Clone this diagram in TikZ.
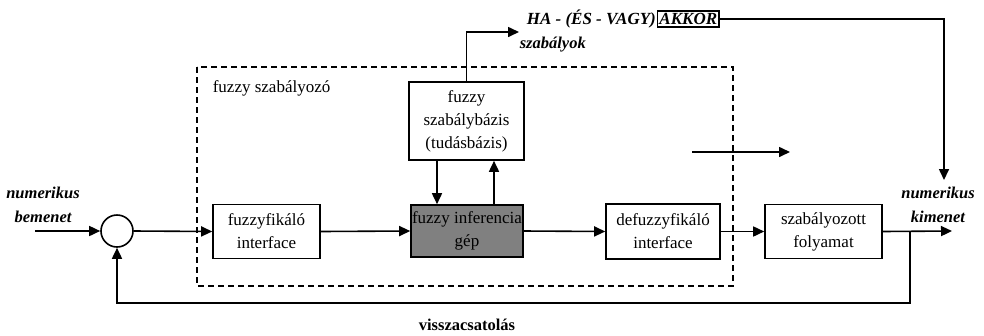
\documentclass[tikz,border=0pt]{standalone}
\usepackage{fontspec}
\setmainfont{Liberation Serif}
\usetikzlibrary{arrows.meta,calc}
\begin{document}
\begin{tikzpicture}[x=1pt,y=-1pt,
  line width=1.6pt,
  arr/.style={-{Triangle[length=11pt,width=10pt]}},
  blk/.style={draw, rectangle, align=center, inner sep=0pt,
    font=\fontsize{17}{23}\selectfont},
  lbl/.style={align=center, inner sep=0pt, font=\fontsize{16.5}{24}\selectfont\bfseries\itshape},
  dsh/.style={line width=2pt, dash pattern=on 6pt off 4pt}]
\useasboundingbox (0,0) rectangle (984,335);

% dashed controller frame
\draw[dsh] (197,67) rectangle (733,286);
\node[anchor=west, inner sep=0pt, font=\fontsize{17}{23}\selectfont] (ctl) at (212,88) {fuzzy szabályozó};

% blocks
\node[draw, circle, minimum size=32pt, inner sep=0pt] (sum) at (117,231) {};
\node[blk, minimum width=107pt, minimum height=54pt] (fz) at (266.5,231.5) {fuzzyfikáló\\interface};
\node[blk, minimum width=112pt, minimum height=52pt, fill=black!50] (inf) at (467,231) {fuzzy inferencia\\gép};
\node[blk, minimum width=115pt, minimum height=78pt] (rb) at (466.5,121) {fuzzy\\szabálybázis\\(tudásbázis)};
\node[blk, minimum width=114pt, minimum height=55pt] (dfz) at (663,231.5) {defuzzyfikáló\\interface};
\node[blk, minimum width=117pt, minimum height=54pt] (proc) at (823.5,231.5) {szabályozott\\folyamat};

% labels
\node[lbl] (inlbl) at (43,205) {numerikus\\bemenet};
\node[lbl] (outlbl) at (938,205) {numerikus\\kimenet};
\node[anchor=west, inner sep=0pt, font=\fontsize{17}{20}\selectfont\bfseries\itshape] (ha) at (526,19) {HA - (ÉS - VAGY)};
\node[draw, anchor=west, inner sep=2pt, line width=1.6pt, font=\fontsize{17}{20}\selectfont\bfseries\itshape] (akkor) at (ha.east) {AKKOR};
\node[anchor=west, inner sep=0pt, font=\fontsize{16.5}{20}\selectfont\bfseries\itshape] (szab) at (519,45) {szabályok};
\node[inner sep=0pt, font=\fontsize{16.5}{20}\selectfont\bfseries] (vissza) at (467,325) {visszacsatolás};

% coordinates
\coordinate (in) at (35,231);
\coordinate (out) at (952,231);
\coordinate (fb) at (910,231);
\coordinate (fbb) at (910,303);
\coordinate (d1) at (437,0);
\coordinate (u1) at (494,0);
\coordinate (rl) at (519,32);
\coordinate (kc) at (944,19);
\coordinate (kt) at (944,180);
\coordinate (fa) at (692,152);
\coordinate (fe) at (790,152);

% connectors
\draw[arr] (in) -- (sum.west);
\draw[arr] (sum.east) -- (fz.west);
\draw[arr] (fz.east) -- (inf.west);
\draw[arr] (inf.east) -- (dfz.west);
\draw[arr] (dfz.east) -- (proc.west);
\draw[arr] (proc.east) -- (out);
\draw[arr] (fb) -- (fbb) -| (sum.south);
\draw[arr] (rb.south -| d1) -- (inf.north -| d1);
\draw[arr] (inf.north -| u1) -- (rb.south -| u1);
\draw[arr] (rb.north) |- (rl);
\draw[arr] (akkor.east) -- (kc) -- (kt);
\draw[arr] (fa) -- (fe);
\end{tikzpicture}
\end{document}
